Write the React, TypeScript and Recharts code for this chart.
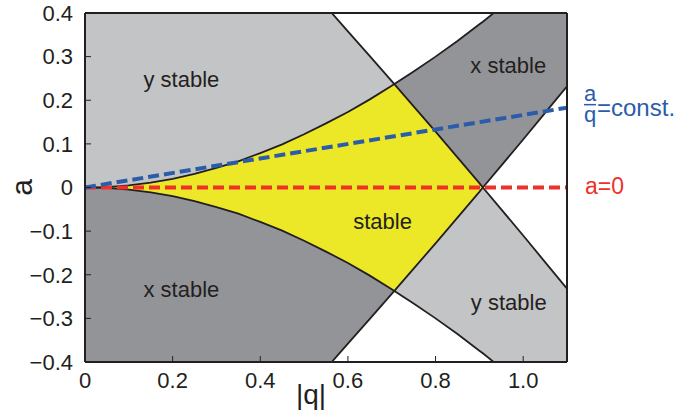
import React from 'react';
import { ComposedChart, Area, Line, XAxis, YAxis, ReferenceDot } from 'recharts';

// Mathieu stability diagram, boundaries
const qValues = [0, 0.05, 0.1, 0.15, 0.2, 0.25, 0.3, 0.35, 0.4, 0.45, 0.5, 0.55, 0.6, 0.65, 0.7, 0.706, 0.75, 0.8, 0.85, 0.9, 0.908, 0.95, 1.0, 1.05, 1.1];
// curved boundary (upper branch, mirrored below)
const curveA = [0, 0.001, 0.005, 0.011, 0.02, 0.031, 0.045, 0.06, 0.079, 0.099, 0.122, 0.147, 0.173, 0.202, 0.233, 0.237, 0.266, 0.3, 0.336, 0.374, 0.38, 0.414, 0.455, 0.496, 0.54];
// straight-ish boundary (falling branch, mirrored rising)
const edgeA = [1, 0.95, 0.899, 0.847, 0.795, 0.742, 0.689, 0.635, 0.581, 0.526, 0.471, 0.415, 0.358, 0.301, 0.244, 0.237, 0.186, 0.128, 0.069, 0.01, 0, -0.05, -0.11, -0.171, -0.232];

const ratioQ = [0, 1.1];
const ratioA = [0, 0.183];
const zeroQ = [0, 1.1];
const zeroA = [0, 0];

const xTicks = [0, 0.2, 0.4, 0.6, 0.8, 1.0];
const xTickLabels = ['0', '0.2', '0.4', '0.6', '0.8', '1.0'];
const yTicks = [-0.4, -0.3, -0.2, -0.1, 0, 0.1, 0.2, 0.3, 0.4];
const yTickLabels = ['\u22120.4', '\u22120.3', '\u22120.2', '\u22120.1', '0', '0.1', '0.2', '0.3', '0.4'];

const regionNames = ['y stable', 'x stable', 'stable', 'x stable', 'y stable'];
const regionQ = [0.22, 0.966, 0.679, 0.22, 0.967];
const regionA = [0.249, 0.281, -0.077, -0.233, -0.263];

const FONT = '"Liberation Sans", Arial, Helvetica, sans-serif';
const INK = '#231f20';
const LIGHT = '#c3c4c6';
const DARK = '#939498';
const YELLOW = '#ece827';
const BLUE = '#2a5caa';
const RED = '#ee3129';

const rows = qValues.map((q, i) => {
  const u = curveA[i];
  const b = edgeA[i];
  const lo = Math.max(-u, -b);
  const hi = Math.min(u, b);
  return {
    q,
    u,
    nu: -u,
    b,
    nb: -b,
    yStable: [-u, b],
    xStable: [-b, u],
    both: lo <= hi ? [lo, hi] : null,
  };
});

const ratioRows = ratioQ.map((q, i) => ({ q, a: ratioA[i] }));
const zeroRows = zeroQ.map((q, i) => ({ q, a: zeroA[i] }));

const pick = (ticks: number[], labels: string[]) => (v: number) => {
  const i = ticks.findIndex((t) => Math.abs(t - v) < 1e-6);
  return i >= 0 ? labels[i] : '';
};

const RatioTag = (props: any) => {
  const { x, y, index } = props;
  if (index !== ratioQ.length - 1) return null;
  return (
    <g fill={BLUE} fontFamily={FONT} fontSize={22}>
      <text x={x + 23} y={y - 7} textAnchor="middle">a</text>
      <line x1={x + 17} x2={x + 29} y1={y - 3} y2={y - 3} stroke={BLUE} strokeWidth={1.5} />
      <text x={x + 23} y={y + 14} textAnchor="middle">q</text>
      <text x={x + 30} y={y + 8} fontSize={24}>=const.</text>
    </g>
  );
};

const ZeroTag = (props: any) => {
  const { x, y, index } = props;
  if (index !== zeroQ.length - 1) return null;
  return (
    <text x={x + 18} y={y + 6} fill={RED} fontFamily={FONT} fontSize={23}>a=0</text>
  );
};

const YTitle = (props: any) => {
  const { viewBox } = props;
  const cx = viewBox.x + viewBox.width - 64;
  const cy = viewBox.y + viewBox.height / 2;
  return (
    <text x={cx} y={cy} transform={`rotate(-90 ${cx} ${cy})`} textAnchor="middle" dominantBaseline="central"
      fill={INK} fontFamily={FONT} fontSize={30}>a</text>
  );
};

const XTitle = (props: any) => {
  const { viewBox } = props;
  return (
    <text x={viewBox.x + viewBox.width * 0.469} y={viewBox.y + 42} textAnchor="middle"
      fill={INK} fontFamily={FONT} fontSize={28}>|q|</text>
  );
};

const tickStyle = { fill: INK, fontSize: 22, fontFamily: FONT };
const axisLine = { stroke: INK, strokeWidth: 2 };
const tickLine = { stroke: INK, strokeWidth: 1 };

export default function App() {
  return (
    <div style={{ position: 'absolute', left: 0, top: 0, background: '#fff' }}>
      <ComposedChart width={679} height={414} data={rows} margin={{ top: 11, right: 110, bottom: 12, left: 25 }}>
        <XAxis dataKey="q" type="number" domain={[0, 1.1]} ticks={xTicks} allowDataOverflow
          tickFormatter={pick(xTicks, xTickLabels)} tick={tickStyle} height={40}
          tickSize={-6} tickMargin={16} axisLine={axisLine} tickLine={tickLine}
          label={<XTitle />} />
        <XAxis xAxisId="top" orientation="top" dataKey="q" type="number" domain={[0, 1.1]} ticks={xTicks}
          allowDataOverflow tick={false} height={2} tickSize={-6}
          axisLine={axisLine} tickLine={tickLine} />
        <YAxis type="number" domain={[-0.4, 0.4]} ticks={yTicks} allowDataOverflow width={60}
          tickFormatter={pick(yTicks, yTickLabels)} tick={tickStyle}
          tickSize={-6} tickMargin={18} axisLine={axisLine} tickLine={tickLine}
          label={<YTitle />} />
        <YAxis yAxisId="right" orientation="right" type="number" domain={[-0.4, 0.4]} ticks={yTicks}
          allowDataOverflow width={2} tick={false} tickSize={-6}
          axisLine={axisLine} tickLine={tickLine} />

        <Area dataKey="yStable" type="linear" fill={LIGHT} fillOpacity={1} stroke="none" isAnimationActive={false} />
        <Area dataKey="xStable" type="linear" fill={DARK} fillOpacity={1} stroke="none" isAnimationActive={false} />
        <Area dataKey="both" type="linear" fill={YELLOW} fillOpacity={1} stroke="none" isAnimationActive={false} />

        <Line dataKey="u" type="linear" stroke={INK} strokeWidth={1.8} dot={false} isAnimationActive={false} />
        <Line dataKey="nu" type="linear" stroke={INK} strokeWidth={1.8} dot={false} isAnimationActive={false} />
        <Line dataKey="b" type="linear" stroke={INK} strokeWidth={1.8} dot={false} isAnimationActive={false} />
        <Line dataKey="nb" type="linear" stroke={INK} strokeWidth={1.8} dot={false} isAnimationActive={false} />

        <Line data={zeroRows} dataKey="a" type="linear" stroke={RED} strokeWidth={4} strokeDasharray="11 5"
          dot={false} isAnimationActive={false} label={(p: any) => <ZeroTag {...p} />} />
        <Line data={ratioRows} dataKey="a" type="linear" stroke={BLUE} strokeWidth={4} strokeDasharray="11 5"
          dot={false} isAnimationActive={false} label={(p: any) => <RatioTag {...p} />} />

        {regionNames.map((name, i) => (
          <ReferenceDot key={i} x={regionQ[i]} y={regionA[i]} r={0} fill="none" stroke="none"
            label={{ value: name, position: 'center', fontSize: 22, fill: INK, fontFamily: FONT }} />
        ))}
      </ComposedChart>
    </div>
  );
}
